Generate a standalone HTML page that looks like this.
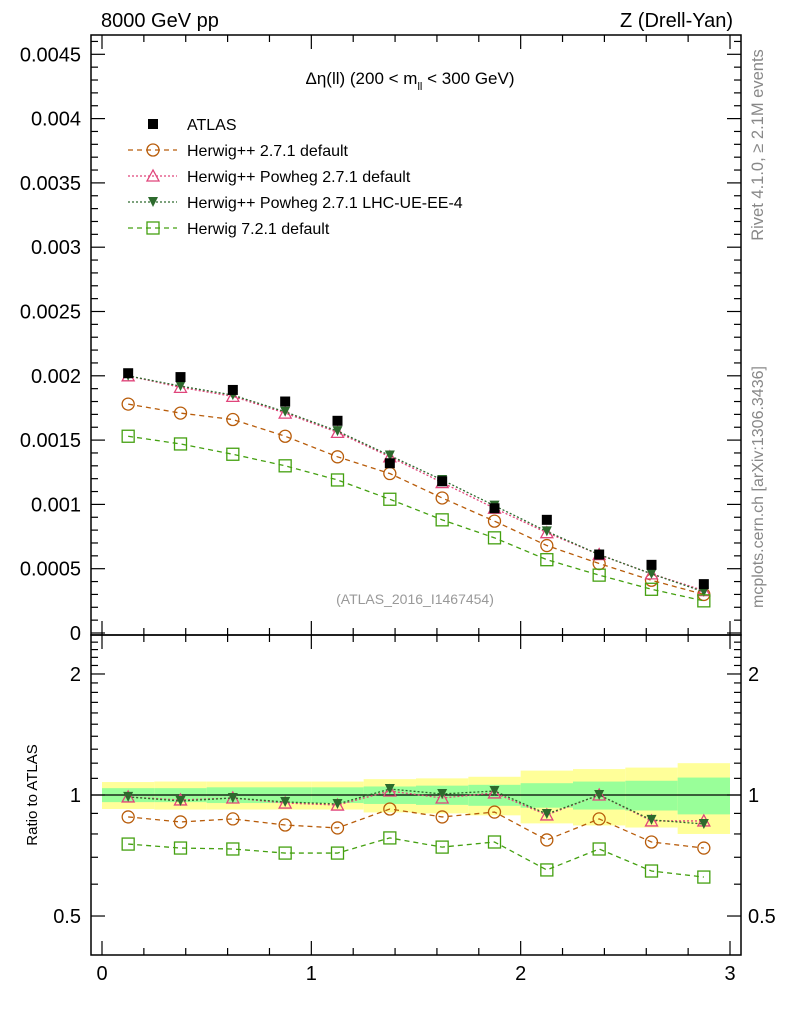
<!DOCTYPE html>
<html><head><meta charset="utf-8"><style>
body{margin:0;background:#fff;}
svg{display:block;font-family:"Liberation Sans",sans-serif;}
</style></head><body>
<svg id="c" width="786" height="1024" viewBox="0 0 786 1024" xmlns="http://www.w3.org/2000/svg">
<text x="101" y="27" font-size="20">8000 GeV pp</text>
<text x="733" y="27" font-size="20" text-anchor="end">Z (Drell-Yan)</text>
<text x="410" y="84" font-size="17" text-anchor="middle">Δη(ll) (200 &lt; m<tspan font-size="11" dy="6">ll</tspan><tspan dy="-6"> &lt; 300 GeV)</tspan></text>
<text x="415" y="604" font-size="14" fill="#999" text-anchor="middle">(ATLAS_2016_I1467454)</text>
<text transform="translate(763,145) rotate(-90)" font-size="16.5" fill="#888" text-anchor="middle">Rivet 4.1.0, ≥ 2.1M events</text>
<text transform="translate(763,487) rotate(-90)" font-size="16" fill="#888" text-anchor="middle">mcplots.cern.ch [arXiv:1306.3436]</text>
<text transform="translate(37,795) rotate(-90)" font-size="15" text-anchor="middle">Ratio to ATLAS</text>
<g id="bands"></g><g id="axes"></g><g id="series"></g><g id="legend"></g>
</svg>
<script>
const xCenters=[0.125,0.375,0.625,0.875,1.125,1.375,1.625,1.875,2.125,2.375,2.625,2.875];
const atlas=[0.00202,0.00199,0.00189,0.00180,0.00165,0.00132,0.00118,0.00097,0.00088,0.00061,0.00053,0.00038];
const herwigpp=[0.00178,0.00171,0.00166,0.00153,0.00137,0.00124,0.00105,0.00087,0.00068,0.00054,0.00041,0.00030];
const powheg=[0.00200,0.00191,0.00184,0.00171,0.00156,0.00137,0.00117,0.00097,0.00078,0.00061,0.00046,0.00033];
const powhegUE=[0.00200,0.00192,0.00185,0.00172,0.00157,0.00138,0.00119,0.00099,0.00079,0.00061,0.00046,0.00032];
const herwig7=[0.00153,0.00147,0.00139,0.00130,0.00119,0.00104,0.00088,0.00074,0.00057,0.00045,0.00034,0.00025];
const ratioHerwigpp=[0.882,0.857,0.872,0.842,0.828,0.923,0.882,0.907,0.773,0.872,0.764,0.738];
const ratioPowheg=[0.989,0.972,0.983,0.955,0.944,1.023,0.983,1.012,0.892,1.0,0.862,0.862];
const ratioPowhegUE=[0.989,0.966,0.983,0.961,0.950,1.035,1.006,1.023,0.897,1.0,0.867,0.847];
const ratioHerwig7=[0.755,0.738,0.734,0.717,0.717,0.782,0.742,0.764,0.651,0.734,0.647,0.625];
const bandTotal=[0.077,0.08,0.08,0.08,0.08,0.095,0.10,0.11,0.15,0.16,0.17,0.20];
const bandStat=[0.04,0.04,0.045,0.045,0.045,0.05,0.055,0.06,0.07,0.08,0.085,0.105];
const mainTicks=["0","0.0005","0.001","0.0015","0.002","0.0025","0.003","0.0035","0.004","0.0045"];
const ratioTicks=["0.5","1","2"];
const xTicks=["0","1","2","3"];

const NS="http://www.w3.org/2000/svg";
const L=91,R=741,T=35,M=635,B=955;
const X=v=>102+v*(730-102)/3;
const Y=v=>633-v*(64.3/0.0005);
const YR=r=>795-402*Math.log10(r);
function mk(tag,attrs,parent){const e=document.createElementNS(NS,tag);for(const k in attrs)e.setAttribute(k,attrs[k]);parent.appendChild(e);return e;}
const gB=document.getElementById('bands'),gA=document.getElementById('axes'),gS=document.getElementById('series'),gL=document.getElementById('legend');

xCenters.forEach((c,i)=>{
  const x0=X(c-0.125),x1=X(c+0.125);
  let e=mk('rect',{x:x0,y:YR(1+bandTotal[i]),width:x1-x0,height:YR(1-bandTotal[i])-YR(1+bandTotal[i]),fill:'#ffff99'},gB);
  
  
  e=mk('rect',{x:x0,y:YR(1+bandStat[i]),width:x1-x0,height:YR(1-bandStat[i])-YR(1+bandStat[i]),fill:'#99ff99'},gB);
  
  
});
let ln=mk('line',{x1:L,x2:R,y1:YR(1),y2:YR(1),stroke:'#000','stroke-width':1.2},gB);



[[T,M],[M,B]].forEach(([a,b],k)=>{const f=mk('rect',{x:L,y:a,width:R-L,height:b-a,fill:'none',stroke:'#000','stroke-width':1.5},gA);

});
function tick(x1,y1,x2,y2){mk('line',{x1,y1,x2,y2,stroke:'#000','stroke-width':1.2},gA);}
for(let i=0;i<=15;i++){const v=i*0.2;const x=X(v);const major=i%5==0;const l=major?14:7;
  tick(x,M,x,M-l);tick(x,T,x,T+l);tick(x,B,x,B-l);tick(x,M,x,M+l);}
xTicks.forEach(t=>{const e=mk('text',{x:X(+t),y:980,'font-size':20,'text-anchor':'middle'},gA);e.textContent=t;

});
for(let i=0;i<=46;i++){const v=i*0.0001;const y=Y(v);if(y<T)break;const major=i%5==0;const l=major?14:7;
  tick(L,y,L+l,y);tick(R,y,R-l,y);}
mainTicks.forEach(t=>{const e=mk('text',{x:81,y:Y(+t)+7,'font-size':20,'text-anchor':'end'},gA);e.textContent=t;

});
const rmin=[0.6,0.7,0.8,0.9,1.1,1.2,1.3,1.4,1.5,1.6,1.7,1.8,1.9,2.1,2.2,2.3,2.4];
rmin.forEach(r=>{const y=YR(r);tick(L,y,L+7,y);tick(R,y,R-7,y);});
ratioTicks.forEach(t=>{const y=YR(+t);tick(L,y,L+14,y);tick(R,y,R-14,y);
  let e=mk('text',{x:81,y:y+7,'font-size':20,'text-anchor':'end'},gA);e.textContent=t;
  
  
  e=mk('text',{x:748,y:y+7,'font-size':20},gA);e.textContent=t;
  
  });

function marker(type,x,y,color,g){
  if(type=='sq')mk('rect',{x:x-5,y:y-5,width:10,height:10,fill:'#000'},g);
  if(type=='circ')mk('circle',{cx:x,cy:y,r:6,fill:'none',stroke:color,'stroke-width':1.3},g);
  if(type=='tri')mk('polygon',{points:`${x},${y-6} ${x-6},${y+5} ${x+6},${y+5}`,fill:'none',stroke:color,'stroke-width':1.3},g);
  if(type=='itri')mk('polygon',{points:`${x-5},${y-5} ${x+5},${y-5} ${x},${y+5}`,fill:color},g);
  if(type=='box')mk('rect',{x:x-6,y:y-6,width:12,height:12,fill:'none',stroke:color,'stroke-width':1.3},g);
}
const series=[
 {name:'herwigpp-2-7-1',vals:herwigpp,ratio:ratioHerwigpp,color:'#b85c0a',dash:'5,4',m:'circ',label:'Herwig++ 2.7.1 default'},
 {name:'herwigpp-powheg',vals:powheg,ratio:ratioPowheg,color:'#e0457b',dash:'2,2',m:'tri',label:'Herwig++ Powheg 2.7.1 default'},
 {name:'herwigpp-powheg-ue',vals:powhegUE,ratio:ratioPowhegUE,color:'#2d6a2d',dash:'2,2',m:'itri',label:'Herwig++ Powheg 2.7.1 LHC-UE-EE-4'},
 {name:'herwig-7-2-1',vals:herwig7,ratio:ratioHerwig7,color:'#44a010',dash:'5,4',m:'box',label:'Herwig 7.2.1 default'}];
series.forEach(s=>{
  const g=mk('g',{},gS);
  
  
  const pts=xCenters.map((c,i)=>X(c)+','+Y(s.vals[i])).join(' ');
  mk('polyline',{points:pts,fill:'none',stroke:s.color,'stroke-width':1.3,'stroke-dasharray':s.dash},g);
  xCenters.forEach((c,i)=>marker(s.m,X(c),Y(s.vals[i]),s.color,g));
  const rg=mk('g',{},gS);
  
  
  const rp=xCenters.map((c,i)=>X(c)+','+YR(s.ratio[i])).join(' ');
  mk('polyline',{points:rp,fill:'none',stroke:s.color,'stroke-width':1.3,'stroke-dasharray':s.dash},rg);
  xCenters.forEach((c,i)=>marker(s.m,X(c),YR(s.ratio[i]),s.color,rg));
});
const ga=mk('g',{},gS);


xCenters.forEach((c,i)=>marker('sq',X(c),Y(atlas[i]),'#000',ga));

const lg=[{label:'ATLAS',m:'sq',color:'#000'}].concat(series);
lg.forEach((s,i)=>{const y=124+i*26;const g=mk('g',{},gL);
  
  
  if(s.dash)mk('line',{x1:128,x2:177,y1:y,y2:y,stroke:s.color,'stroke-width':1.3,'stroke-dasharray':s.dash},g);
  marker(s.m,153,y,s.color,g);
  const t=mk('text',{x:187,y:y+6,'font-size':16},g);t.textContent=s.label;});
</script>
</body></html>
